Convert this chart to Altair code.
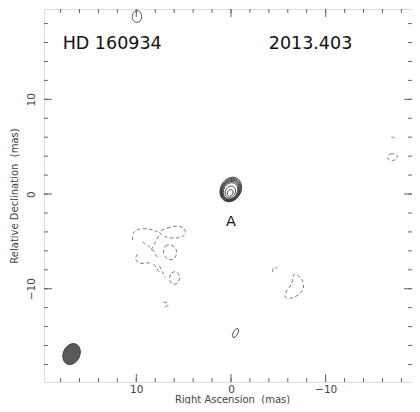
import altair as alt
import pandas as pd

# ---------------- plot geometry (data units: mas) ----------------
W, H = 368, 373
X_DOM = [19.75, -19.12]
Y_DOM = [-19.85, 19.54]
SIZE_DOM = [0, 39.5]      # mas  -> pixel span below
SIZE_PX = 374

# ---------------- main source "A": nested positive contours ----------------
src_ra = [0.02, 0.03, 0.03, 0.04, 0.04, 0.05, 0.07, 0.09]
src_dec = [0.48, 0.45, 0.42, 0.40, 0.37, 0.33, 0.22, 0.12]
src_major = [2.70, 2.52, 2.35, 2.18, 2.01, 1.80, 1.30, 0.72]

# small isolated positive contours
pos_ra = [9.93]
pos_dec = [18.74]
pos_major = [1.25]
thin_ra = [-0.48]
thin_dec = [-14.68]
thin_major = [1.05]

# restoring beam
beam_ra = [16.84]
beam_dec = [-16.9]
beam_major = [2.3]

# ---------------- negative (dashed) contours, (RA, Dec) vertices ----------------
neg_open_1 = [(10.40, -4.86), (10.30, -4.12), (9.66, -3.70), (8.61, -3.70), (7.76, -4.01)]
neg_open_2 = [(7.66, -4.44), (8.08, -5.28), (8.50, -6.02)]
neg_open_3 = [(9.35, -5.07), (8.71, -5.49), (8.18, -6.02), (7.76, -6.76)]
neg_open_4 = [(9.87, -6.34), (10.08, -6.86), (9.66, -7.29), (8.92, -7.29), (8.29, -7.18)]
neg_open_5 = [(8.18, -7.39), (7.87, -7.81), (7.55, -8.34)]
neg_open_6 = [(7.55, -7.60), (7.23, -8.24), (6.92, -8.87)]
neg_open_7 = [(7.13, -11.40), (6.71, -11.51), (6.71, -11.83), (7.13, -11.93)]
neg_open_8 = [(-4.38, -8.24), (-4.49, -7.81), (-4.91, -7.81)]
neg_open_9 = [(-16.95, 6.02), (-17.27, 5.91), (-17.37, 5.60)]

neg_loop_1 = [(7.55, -4.01), (6.71, -3.59), (5.65, -3.38), (4.91, -3.70), (4.91, -4.33), (5.76, -4.65), (6.81, -4.54)]
neg_loop_2 = [(7.13, -6.12), (6.92, -5.49), (6.39, -5.39), (5.86, -5.70), (5.76, -6.34), (6.07, -6.86), (6.71, -6.86)]
neg_loop_3 = [(6.49, -8.98), (6.28, -8.34), (5.76, -8.24), (5.44, -8.76), (5.65, -9.40), (6.18, -9.50)]
neg_loop_4 = [(-6.71, -8.45), (-7.44, -8.98), (-7.66, -9.82), (-7.23, -10.56), (-6.39, -10.98),
              (-5.76, -10.88), (-5.86, -10.24), (-6.39, -9.50)]
neg_loop_5 = [(-16.53, 3.91), (-16.84, 4.22), (-17.37, 4.22), (-17.58, 3.91), (-17.27, 3.59), (-16.74, 3.59)]

# ---------------- labels ----------------
label_text = ["HD 160934", "2013.403"]
label_ra = [12.55, -8.4]
label_dec = [15.8, 15.8]
comp_text = ["A"]
comp_ra = [0.0]
comp_dec = [-2.95]

# ---------------- axis ticks ----------------
major_ticks = [-10, 0, 10]
minor_ticks = [-18, -16, -14, -12, -10, -8, -6, -4, -2, 0, 2, 4, 6, 8, 10, 12, 14, 16, 18]

FONT = "DejaVu Sans"
xs = alt.Scale(domain=X_DOM, nice=False, zero=False)
ys = alt.Scale(domain=Y_DOM, nice=False, zero=False)
size_scale = alt.Scale(type="pow", exponent=2, domain=SIZE_DOM, range=[0, SIZE_PX * SIZE_PX], zero=True)

x_axis = alt.Axis(values=major_ticks, ticks=False, domain=False, grid=False, labelPadding=2,
                  labelFontSize=10.5, labelColor="#444", labelFont=FONT, labelBaseline="top",
                  title="Right Ascension\u00a0 (mas)", titleFontSize=10, titleFontWeight="normal",
                  titleColor="#444", titleFont=FONT, titleX=188, titleY=12.5,
                  titleBaseline="top", titleAlign="center", titleAngle=0)
y_axis = alt.Axis(values=major_ticks, ticks=False, domain=False, grid=False, labelPadding=13,
                  labelAngle=270, labelAlign="center", labelBaseline="middle",
                  labelFontSize=10.5, labelColor="#444", labelFont=FONT,
                  title="Relative Declination\u00a0 (mas)", titleFontSize=10, titleFontWeight="normal",
                  titleColor="#444", titleFont=FONT, titleX=-25, titleY=H / 2,
                  titleAngle=270, titleBaseline="bottom", titleAlign="center")


def X(f="ra"):
    return alt.X(f"{f}:Q", scale=xs, axis=x_axis)


def Y(f="dec"):
    return alt.Y(f"{f}:Q", scale=ys, axis=y_axis)


def ellipse_path(ratio):
    r = ratio
    return f"M0,-1A{r},1 0 1,1 0,1A{r},1 0 1,1 0,-1Z"


def ellipse_layer(ra, dec, major, ratio, angle, **mk):
    df = pd.DataFrame({"ra": ra, "dec": dec, "major": major})
    return alt.Chart(df).mark_point(shape=ellipse_path(ratio), angle=angle, opacity=1, **mk).encode(
        x=X(), y=Y(), size=alt.Size("major:Q", scale=size_scale, legend=None))


def lines_frame(contours):
    rows = []
    for cid, pts in enumerate(contours):
        for k, (a, d) in enumerate(pts):
            rows.append({"ra": a, "dec": d, "cid": cid, "k": k})
    return pd.DataFrame(rows)


open_df = lines_frame([neg_open_1, neg_open_2, neg_open_3, neg_open_4, neg_open_5,
                       neg_open_6, neg_open_7, neg_open_8, neg_open_9])
loop_df = lines_frame([neg_loop_1, neg_loop_2, neg_loop_3, neg_loop_4, neg_loop_5])

neg_style = dict(strokeDash=[3.5, 2.5], strokeWidth=0.8, color="#555")
open_lines = alt.Chart(open_df).mark_line(interpolate="cardinal", **neg_style).encode(
    x=X(), y=Y(), detail="cid:N", order="k:Q")
loop_lines = alt.Chart(loop_df).mark_line(interpolate="cardinal-closed", **neg_style).encode(
    x=X(), y=Y(), detail="cid:N", order="k:Q")

source = ellipse_layer(src_ra, src_dec, src_major, 0.8, 28, filled=False, stroke="#222", strokeWidth=0.75)
pos_small = ellipse_layer(pos_ra, pos_dec, pos_major, 0.8, 0, filled=False, stroke="#333", strokeWidth=0.8)
thin_small = ellipse_layer(thin_ra, thin_dec, thin_major, 0.45, 30, filled=False, stroke="#333", strokeWidth=0.8)
beam = ellipse_layer(beam_ra, beam_dec, beam_major, 0.76, 25, filled=True, fill="#5a5a5a",
                     stroke="#333", strokeWidth=0.8)

labels = alt.Chart(pd.DataFrame({"ra": label_ra, "dec": label_dec, "t": label_text})).mark_text(
    font=FONT, fontSize=17.5, color="#111", align="center", baseline="middle").encode(
    x=X(), y=Y(), text="t:N")
comp = alt.Chart(pd.DataFrame({"ra": comp_ra, "dec": comp_dec, "t": comp_text})).mark_text(
    font=FONT, fontSize=14.5, color="#111", align="center", baseline="middle").encode(
    x=X(), y=Y(), text="t:N")

# inward ticks on all four sides
tick_col = "#666"
minor_df = pd.DataFrame({"v": minor_ticks})
major_df = pd.DataFrame({"v": major_ticks})
MIN_L, MAJ_L = 4, 8


def tick_layers(df, L):
    xt = alt.X("v:Q", scale=xs, axis=x_axis)
    yt = alt.Y("v:Q", scale=ys, axis=y_axis)
    base = alt.Chart(df).mark_rule(color=tick_col, strokeWidth=1)
    return [
        base.encode(x=xt, y=alt.value(H), y2=alt.value(H - L)),
        base.encode(x=xt, y=alt.value(0), y2=alt.value(L)),
        base.encode(y=yt, x=alt.value(0), x2=alt.value(L)),
        base.encode(y=yt, x=alt.value(W), x2=alt.value(W - L)),
    ]


layers = [open_lines, loop_lines, source, pos_small, thin_small, beam, labels, comp]
layers += tick_layers(minor_df, MIN_L) + tick_layers(major_df, MAJ_L)

chart = alt.layer(*layers).properties(
    width=W, height=H,
    autosize=alt.AutoSizeParams(type="none"),
    padding={"left": 36, "top": 1, "right": 0, "bottom": 22},
).configure_view(stroke="#777", strokeWidth=1.5).configure(background="white")

chart.save("out.html", embed_options={"renderer": "svg", "actions": False})
